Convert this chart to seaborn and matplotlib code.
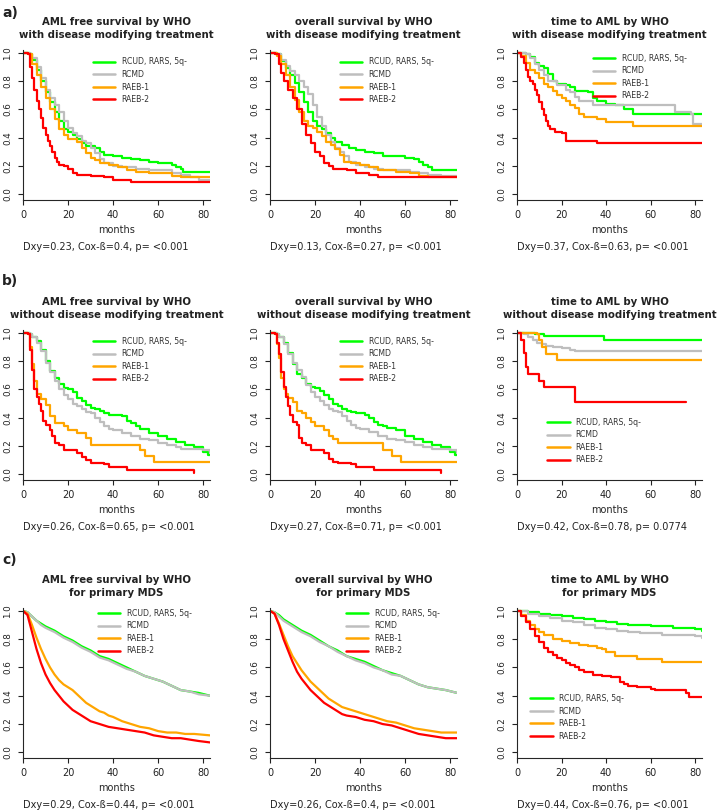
import matplotlib
matplotlib.use("Agg")
import matplotlib.pyplot as plt
import pandas as pd
import seaborn as sns

sns.set_style("ticks")
plt.rcParams['font.family'] = ['DejaVu Sans']
plt.rcParams['axes.linewidth'] = 0.8
plt.rcParams['text.color'] = '#222222'
plt.rcParams['xtick.color'] = '#222222'
plt.rcParams['ytick.color'] = '#222222'

groups = ["RCUD, RARS, 5q-", "RCMD", "RAEB-1", "RAEB-2"]
colors = ["#00FF00", "#BEBEBE", "#FFA500", "#FF0000"]

# ---------- a) with disease modifying treatment ----------
a1_green = [(0, 1.0), (3, 0.99), (4, 0.95), (6, 0.88), (8, 0.8), (10, 0.72), (12, 0.65), (14, 0.58), (16, 0.52),
            (18, 0.46), (20, 0.44), (22, 0.42), (24, 0.39), (26, 0.36), (28, 0.34), (32, 0.33), (34, 0.30),
            (36, 0.28), (40, 0.27), (44, 0.26), (48, 0.25), (52, 0.24), (56, 0.23), (60, 0.22), (64, 0.22),
            (66, 0.21), (68, 0.19), (70, 0.18), (71, 0.16), (83, 0.16)]
a1_grey = [(0, 1.0), (3, 0.99), (4, 0.96), (6, 0.9), (8, 0.82), (10, 0.74), (12, 0.68), (14, 0.63), (16, 0.58),
           (18, 0.52), (20, 0.47), (22, 0.43), (24, 0.41), (26, 0.38), (28, 0.36), (30, 0.33), (32, 0.29),
           (34, 0.25), (36, 0.22), (40, 0.2), (44, 0.19), (50, 0.18), (56, 0.17), (62, 0.17), (66, 0.15),
           (70, 0.14), (74, 0.12), (78, 0.1), (83, 0.1)]
a1_orange = [(0, 1.0), (2, 0.99), (4, 0.92), (6, 0.84), (8, 0.76), (10, 0.68), (12, 0.6), (14, 0.53), (16, 0.46),
             (18, 0.42), (20, 0.39), (24, 0.37), (26, 0.33), (28, 0.29), (30, 0.26), (32, 0.24), (34, 0.22),
             (38, 0.21), (42, 0.19), (46, 0.17), (50, 0.16), (56, 0.15), (62, 0.15), (66, 0.13), (70, 0.12),
             (83, 0.12)]
a1_red = [(0, 1.0), (2, 0.99), (3, 0.9), (4, 0.82), (5, 0.74), (6, 0.66), (7, 0.6), (8, 0.54), (9, 0.47),
          (10, 0.42), (11, 0.38), (12, 0.34), (13, 0.3), (14, 0.26), (15, 0.23), (16, 0.21), (18, 0.2), (20, 0.18),
          (22, 0.15), (24, 0.14), (30, 0.13), (36, 0.12), (40, 0.1), (48, 0.09), (83, 0.09)]

a2_green = [(0, 1.0), (3, 0.99), (5, 0.94), (7, 0.89), (9, 0.84), (11, 0.79), (13, 0.72), (15, 0.65), (17, 0.58),
            (19, 0.52), (21, 0.48), (23, 0.46), (25, 0.43), (27, 0.4), (29, 0.37), (32, 0.35), (35, 0.33),
            (38, 0.31), (42, 0.3), (46, 0.29), (50, 0.27), (56, 0.27), (60, 0.26), (64, 0.25), (66, 0.23),
            (68, 0.21), (70, 0.19), (72, 0.17), (83, 0.17)]
a2_grey = [(0, 1.0), (3, 0.99), (5, 0.95), (7, 0.91), (9, 0.87), (11, 0.84), (13, 0.8), (15, 0.76), (17, 0.71),
           (19, 0.63), (21, 0.55), (23, 0.48), (25, 0.42), (27, 0.37), (29, 0.33), (31, 0.3), (33, 0.27),
           (35, 0.23), (38, 0.21), (42, 0.19), (46, 0.18), (50, 0.17), (56, 0.17), (62, 0.16), (66, 0.15),
           (70, 0.14), (76, 0.13), (83, 0.12)]
a2_orange = [(0, 1.0), (3, 0.98), (5, 0.92), (7, 0.84), (9, 0.76), (11, 0.67), (13, 0.58), (15, 0.52), (17, 0.48),
             (19, 0.47), (21, 0.44), (23, 0.41), (25, 0.37), (27, 0.35), (29, 0.32), (31, 0.28), (33, 0.23),
             (36, 0.22), (40, 0.21), (44, 0.19), (48, 0.17), (56, 0.16), (62, 0.15), (66, 0.13), (70, 0.12),
             (83, 0.12)]
a2_red = [(0, 1.0), (2, 0.99), (4, 0.92), (5, 0.86), (6, 0.8), (8, 0.74), (10, 0.68), (12, 0.6), (14, 0.5),
          (16, 0.42), (18, 0.36), (20, 0.3), (22, 0.27), (24, 0.22), (26, 0.2), (28, 0.18), (34, 0.17),
          (38, 0.15), (44, 0.14), (48, 0.12), (83, 0.12)]

a3_green = [(0, 1.0), (4, 0.99), (6, 0.97), (8, 0.93), (10, 0.91), (12, 0.89), (14, 0.85), (16, 0.8), (18, 0.78),
            (22, 0.77), (24, 0.76), (26, 0.73), (32, 0.72), (34, 0.68), (36, 0.66), (40, 0.64), (44, 0.63),
            (48, 0.6), (52, 0.57), (83, 0.57)]
a3_grey = [(0, 1.0), (4, 0.99), (6, 0.96), (8, 0.92), (10, 0.88), (12, 0.84), (14, 0.8), (18, 0.77), (22, 0.74),
           (24, 0.72), (26, 0.69), (28, 0.66), (34, 0.63), (70, 0.63), (71, 0.58), (78, 0.57), (79, 0.5),
           (83, 0.5)]
a3_orange = [(0, 1.0), (2, 0.98), (4, 0.93), (6, 0.88), (8, 0.86), (10, 0.82), (12, 0.78), (14, 0.76), (16, 0.73),
             (18, 0.7), (20, 0.68), (22, 0.66), (24, 0.63), (26, 0.61), (28, 0.57), (30, 0.55), (36, 0.53),
             (40, 0.51), (52, 0.48), (83, 0.48)]
a3_red = [(0, 1.0), (2, 0.97), (3, 0.93), (4, 0.88), (5, 0.83), (6, 0.8), (7, 0.78), (8, 0.74), (9, 0.7),
          (10, 0.65), (11, 0.6), (12, 0.56), (13, 0.52), (14, 0.48), (15, 0.46), (17, 0.44), (20, 0.43),
          (22, 0.38), (36, 0.36), (83, 0.36)]

# ---------- b) without disease modifying treatment ----------
b1_green = [(0, 1.0), (3, 0.99), (4, 0.97), (6, 0.94), (8, 0.88), (10, 0.8), (12, 0.73), (14, 0.68), (16, 0.64),
            (18, 0.61), (20, 0.6), (22, 0.58), (24, 0.54), (26, 0.52), (28, 0.49), (30, 0.47), (32, 0.46),
            (34, 0.45), (36, 0.43), (38, 0.42), (44, 0.41), (46, 0.38), (48, 0.36), (50, 0.34), (52, 0.32),
            (56, 0.29), (60, 0.27), (64, 0.25), (68, 0.23), (72, 0.21), (76, 0.19), (80, 0.16), (82, 0.14),
            (83, 0.14)]
b1_grey = [(0, 1.0), (3, 0.99), (4, 0.97), (6, 0.93), (8, 0.87), (10, 0.79), (12, 0.72), (14, 0.66), (16, 0.6),
           (18, 0.56), (20, 0.53), (22, 0.5), (24, 0.48), (26, 0.46), (28, 0.44), (30, 0.43), (32, 0.4),
           (34, 0.37), (36, 0.34), (38, 0.32), (40, 0.31), (44, 0.29), (48, 0.27), (52, 0.25), (56, 0.24),
           (60, 0.22), (64, 0.21), (68, 0.19), (70, 0.18), (80, 0.17), (83, 0.15)]
b1_orange = [(0, 1.0), (2, 0.99), (3, 0.9), (4, 0.78), (5, 0.66), (6, 0.57), (8, 0.53), (10, 0.49), (12, 0.41),
             (14, 0.36), (18, 0.34), (20, 0.31), (24, 0.29), (28, 0.26), (30, 0.21), (50, 0.21), (52, 0.17),
             (54, 0.13), (58, 0.09), (83, 0.09)]
b1_red = [(0, 1.0), (2, 0.99), (3, 0.88), (4, 0.74), (5, 0.6), (6, 0.55), (7, 0.5), (8, 0.45), (9, 0.38),
          (10, 0.35), (12, 0.31), (13, 0.27), (14, 0.22), (16, 0.21), (18, 0.17), (24, 0.15), (26, 0.12),
          (28, 0.1), (30, 0.08), (36, 0.07), (38, 0.05), (46, 0.03), (76, 0.01)]

b2_green = [(0, 1.0), (3, 0.99), (4, 0.97), (6, 0.93), (8, 0.86), (10, 0.78), (12, 0.71), (14, 0.68), (16, 0.64),
            (18, 0.62), (20, 0.61), (22, 0.59), (24, 0.56), (26, 0.53), (28, 0.5), (30, 0.48), (32, 0.46),
            (34, 0.45), (36, 0.44), (38, 0.43), (42, 0.42), (44, 0.4), (46, 0.37), (48, 0.35), (50, 0.34),
            (52, 0.33), (56, 0.31), (60, 0.27), (64, 0.25), (68, 0.23), (72, 0.21), (76, 0.19), (80, 0.16),
            (82, 0.14), (83, 0.14)]
b2_grey = [(0, 1.0), (3, 0.99), (4, 0.97), (6, 0.92), (8, 0.85), (10, 0.79), (12, 0.74), (14, 0.69), (16, 0.63),
           (18, 0.58), (20, 0.55), (22, 0.52), (24, 0.49), (26, 0.46), (28, 0.45), (30, 0.44), (32, 0.41),
           (34, 0.38), (36, 0.35), (38, 0.33), (40, 0.32), (44, 0.3), (48, 0.27), (52, 0.25), (56, 0.24),
           (60, 0.23), (64, 0.21), (68, 0.19), (72, 0.18), (80, 0.17), (83, 0.15)]
b2_orange = [(0, 1.0), (2, 0.99), (3, 0.92), (4, 0.82), (5, 0.68), (6, 0.6), (7, 0.57), (8, 0.54), (10, 0.51),
             (12, 0.45), (14, 0.43), (16, 0.4), (18, 0.37), (20, 0.34), (24, 0.31), (26, 0.27), (28, 0.25),
             (30, 0.22), (48, 0.22), (50, 0.17), (54, 0.13), (58, 0.09), (83, 0.09)]
b2_red = [(0, 1.0), (2, 0.99), (3, 0.93), (4, 0.85), (5, 0.72), (6, 0.62), (7, 0.55), (8, 0.48), (9, 0.42),
          (10, 0.37), (12, 0.35), (13, 0.26), (14, 0.22), (16, 0.21), (18, 0.17), (24, 0.15), (26, 0.11),
          (28, 0.09), (30, 0.08), (36, 0.07), (38, 0.05), (46, 0.03), (76, 0.01)]

b3_green = [(0, 1.0), (8, 0.99), (12, 0.98), (39, 0.95), (83, 0.95)]
b3_grey = [(0, 1.0), (3, 0.99), (5, 0.97), (7, 0.95), (9, 0.93), (11, 0.92), (13, 0.91), (16, 0.9), (20, 0.89),
           (24, 0.88), (26, 0.87), (83, 0.87)]
b3_orange = [(0, 1.0), (9, 0.99), (10, 0.95), (11, 0.9), (13, 0.85), (18, 0.81), (83, 0.81)]
b3_red = [(0, 1.0), (2, 0.95), (3, 0.86), (4, 0.76), (5, 0.71), (10, 0.66), (12, 0.62), (26, 0.51), (76, 0.51)]

# ---------- c) primary MDS ----------
c1_green = [(0, 1.0), (2, 0.99), (4, 0.96), (6, 0.93), (8, 0.91), (10, 0.89), (14, 0.86), (18, 0.82), (22, 0.79),
            (26, 0.75), (30, 0.72), (34, 0.68), (38, 0.66), (42, 0.63), (46, 0.6), (50, 0.57), (54, 0.54),
            (58, 0.52), (62, 0.5), (66, 0.47), (70, 0.44), (74, 0.43), (78, 0.42), (83, 0.4)]
c1_grey = [(0, 1.0), (2, 0.99), (4, 0.96), (6, 0.93), (8, 0.9), (10, 0.88), (14, 0.85), (18, 0.81), (22, 0.78),
           (26, 0.74), (30, 0.71), (34, 0.67), (38, 0.65), (42, 0.62), (46, 0.59), (50, 0.57), (54, 0.54),
           (58, 0.52), (62, 0.5), (66, 0.47), (70, 0.44), (74, 0.43), (78, 0.41), (83, 0.4)]
c1_orange = [(0, 1.0), (2, 0.98), (4, 0.9), (6, 0.81), (8, 0.73), (10, 0.66), (12, 0.6), (14, 0.55), (16, 0.51),
             (18, 0.48), (20, 0.46), (22, 0.44), (24, 0.41), (26, 0.38), (28, 0.35), (30, 0.33), (32, 0.31),
             (34, 0.29), (36, 0.28), (38, 0.26), (40, 0.25), (44, 0.22), (48, 0.2), (52, 0.18), (56, 0.17),
             (60, 0.15), (64, 0.14), (68, 0.14), (72, 0.13), (76, 0.13), (83, 0.12)]
c1_red = [(0, 1.0), (2, 0.97), (4, 0.85), (6, 0.73), (8, 0.63), (10, 0.55), (12, 0.49), (14, 0.44), (16, 0.4),
          (18, 0.36), (20, 0.33), (22, 0.3), (24, 0.28), (26, 0.26), (28, 0.24), (30, 0.22), (34, 0.2),
          (38, 0.18), (42, 0.17), (46, 0.16), (50, 0.15), (54, 0.14), (58, 0.12), (62, 0.11), (66, 0.1),
          (70, 0.1), (74, 0.09), (78, 0.08), (83, 0.07)]

c2_green = [(0, 1.0), (2, 0.99), (4, 0.97), (6, 0.94), (8, 0.92), (10, 0.9), (14, 0.86), (18, 0.83), (22, 0.79),
            (26, 0.75), (30, 0.72), (34, 0.68), (38, 0.66), (42, 0.64), (46, 0.61), (50, 0.58), (54, 0.56),
            (58, 0.54), (62, 0.51), (66, 0.48), (70, 0.46), (74, 0.45), (78, 0.44), (83, 0.42)]
c2_grey = [(0, 1.0), (2, 0.99), (4, 0.96), (6, 0.93), (8, 0.91), (10, 0.89), (14, 0.85), (18, 0.82), (22, 0.78),
           (26, 0.75), (30, 0.71), (34, 0.68), (38, 0.65), (42, 0.63), (46, 0.6), (50, 0.58), (54, 0.55),
           (58, 0.54), (62, 0.51), (66, 0.48), (70, 0.46), (74, 0.45), (78, 0.44), (83, 0.42)]
c2_orange = [(0, 1.0), (2, 0.98), (4, 0.91), (6, 0.83), (8, 0.75), (10, 0.68), (12, 0.63), (14, 0.58), (16, 0.54),
             (18, 0.5), (20, 0.47), (22, 0.44), (24, 0.41), (26, 0.38), (28, 0.36), (30, 0.34), (32, 0.32),
             (34, 0.31), (36, 0.3), (38, 0.29), (40, 0.28), (44, 0.26), (48, 0.24), (52, 0.22), (56, 0.21),
             (60, 0.19), (64, 0.17), (68, 0.16), (72, 0.15), (76, 0.14), (83, 0.14)]
c2_red = [(0, 1.0), (2, 0.98), (4, 0.9), (6, 0.8), (8, 0.72), (10, 0.64), (12, 0.57), (14, 0.52), (16, 0.48),
          (18, 0.44), (20, 0.41), (22, 0.38), (24, 0.35), (26, 0.33), (28, 0.31), (30, 0.29), (32, 0.27),
          (34, 0.26), (38, 0.25), (42, 0.23), (46, 0.22), (50, 0.2), (54, 0.19), (58, 0.17), (62, 0.15),
          (66, 0.13), (70, 0.12), (74, 0.11), (78, 0.1), (83, 0.1)]

c3_green = [(0, 1.0), (5, 0.99), (10, 0.98), (15, 0.97), (20, 0.96), (25, 0.95), (30, 0.94), (35, 0.93),
            (40, 0.92), (45, 0.91), (50, 0.9), (60, 0.89), (70, 0.88), (80, 0.87), (83, 0.86)]
c3_grey = [(0, 1.0), (5, 0.98), (10, 0.96), (15, 0.95), (20, 0.93), (25, 0.92), (30, 0.9), (35, 0.88),
           (40, 0.87), (45, 0.86), (50, 0.85), (55, 0.84), (65, 0.83), (80, 0.82), (83, 0.81)]
c3_orange = [(0, 1.0), (2, 0.97), (4, 0.93), (6, 0.9), (8, 0.87), (10, 0.85), (12, 0.83), (16, 0.8), (20, 0.79),
             (24, 0.77), (28, 0.76), (32, 0.75), (36, 0.74), (38, 0.73), (40, 0.71), (44, 0.68), (54, 0.66),
             (65, 0.64), (83, 0.64)]
c3_red = [(0, 1.0), (2, 0.96), (4, 0.92), (6, 0.87), (8, 0.82), (10, 0.78), (12, 0.74), (14, 0.71), (16, 0.69),
          (18, 0.67), (20, 0.65), (22, 0.63), (24, 0.62), (26, 0.6), (28, 0.58), (30, 0.57), (34, 0.55),
          (38, 0.54), (42, 0.53), (46, 0.5), (48, 0.48), (50, 0.47), (54, 0.46), (60, 0.45), (62, 0.44),
          (76, 0.42), (77, 0.39), (83, 0.39)]

titles = [
    "AML free survival by WHO\nwith disease modifying treatment",
    "overall survival by WHO\nwith disease modifying treatment",
    "time to AML by WHO\nwith disease modifying treatment",
    "AML free survival by WHO\nwithout disease modifying treatment",
    "overall survival by WHO\nwithout disease modifying treatment",
    "time to AML by WHO\nwithout disease modifying treatment",
    "AML free survival by WHO\nfor primary MDS",
    "overall survival by WHO\nfor primary MDS",
    "time to AML by WHO\nfor primary MDS",
]
stats = [
    "Dxy=0.23, Cox-ß=0.4, p= <0.001",
    "Dxy=0.13, Cox-ß=0.27, p= <0.001",
    "Dxy=0.37, Cox-ß=0.63, p= <0.001",
    "Dxy=0.26, Cox-ß=0.65, p= <0.001",
    "Dxy=0.27, Cox-ß=0.71, p= <0.001",
    "Dxy=0.42, Cox-ß=0.78, p= 0.0774",
    "Dxy=0.29, Cox-ß=0.44, p= <0.001",
    "Dxy=0.26, Cox-ß=0.4, p= <0.001",
    "Dxy=0.44, Cox-ß=0.76, p= <0.001",
]
curves = [
    [a1_green, a1_grey, a1_orange, a1_red], [a2_green, a2_grey, a2_orange, a2_red],
    [a3_green, a3_grey, a3_orange, a3_red], [b1_green, b1_grey, b1_orange, b1_red],
    [b2_green, b2_grey, b2_orange, b2_red], [b3_green, b3_grey, b3_orange, b3_red],
    [c1_green, c1_grey, c1_orange, c1_red], [c2_green, c2_grey, c2_orange, c2_red],
    [c3_green, c3_grey, c3_orange, c3_red],
]
row_letters = ["a)", "b)", "c)"]

# layout in pixels of the 718x810 canvas
W, H = 718, 810
col_left = [23, 270, 517]
col_w = [187, 187, 185]
row_top = [50, 330, 608]
ax_h = 150
letter_y = [13, 281, 560]
# legend anchor (axes fraction, upper-left corner)
leg_anchor = [(0.374, 0.95), (0.374, 0.95), (0.41, 0.975),
              (0.374, 0.955), (0.374, 0.955), (0.162, 0.415),
              (0.40, 0.995), (0.406, 0.995), (0.07, 0.426)]
smooth = {6, 7}

fig = plt.figure(figsize=(W / 100, H / 100), dpi=100)

for k in range(9):
    r, c = divmod(k, 3)
    ax = fig.add_axes([col_left[c] / W, 1 - (row_top[r] + ax_h) / H, col_w[c] / W, ax_h / H])

    rows = []
    for g, pts in zip(groups, curves[k]):
        for t, s in pts:
            rows.append({"months": t, "surv": s, "group": g})
    df = pd.DataFrame(rows)

    sns.lineplot(data=df, x="months", y="surv", hue="group", hue_order=groups,
                 palette=colors, estimator=None, sort=False, linewidth=1.6,
                 drawstyle="default" if k in smooth else "steps-post", ax=ax)

    leg = ax.get_legend()
    handles = leg.legend_handles
    labels = [t.get_text() for t in leg.get_texts()]
    leg.remove()
    for h in handles:
        h.set_linewidth(1.8)
    ax.legend(handles, labels, loc="upper left", bbox_to_anchor=leg_anchor[k], frameon=False,
              fontsize=5.6, borderpad=0, borderaxespad=0, handlelength=2.9, handletextpad=0.8,
              labelspacing=0.45, labelcolor="#333333")

    ax.set_xlim(0, 83)
    ax.set_ylim(-0.04, 1.02)
    ax.set_xticks([0, 20, 40, 60, 80])
    ax.set_yticks([0.0, 0.2, 0.4, 0.6, 0.8, 1.0])
    ax.set_yticklabels(["0.0", "0.2", "0.4", "0.6", "0.8", "1.0"], rotation=90, va="center")
    ax.tick_params(axis="x", length=3.5, width=0.8, pad=3.5, labelsize=7)
    ax.tick_params(axis="y", length=3.5, width=0.8, pad=4.5, labelsize=6.3)
    sns.despine(ax=ax)
    ax.set_xlabel("months", fontsize=7, labelpad=3.5)
    ax.set_ylabel("")
    ax.set_title(titles[k], fontsize=7.3, fontweight="bold", pad=9, linespacing=1.3)
    ax.text(0, -0.313, stats[k], transform=ax.transAxes, ha="left", va="center", fontsize=7)

for r in range(3):
    fig.text(2 / W, 1 - letter_y[r] / H, row_letters[r], fontsize=10, fontweight="bold", va="center", ha="left")

fig.savefig("out.png", dpi=100)
